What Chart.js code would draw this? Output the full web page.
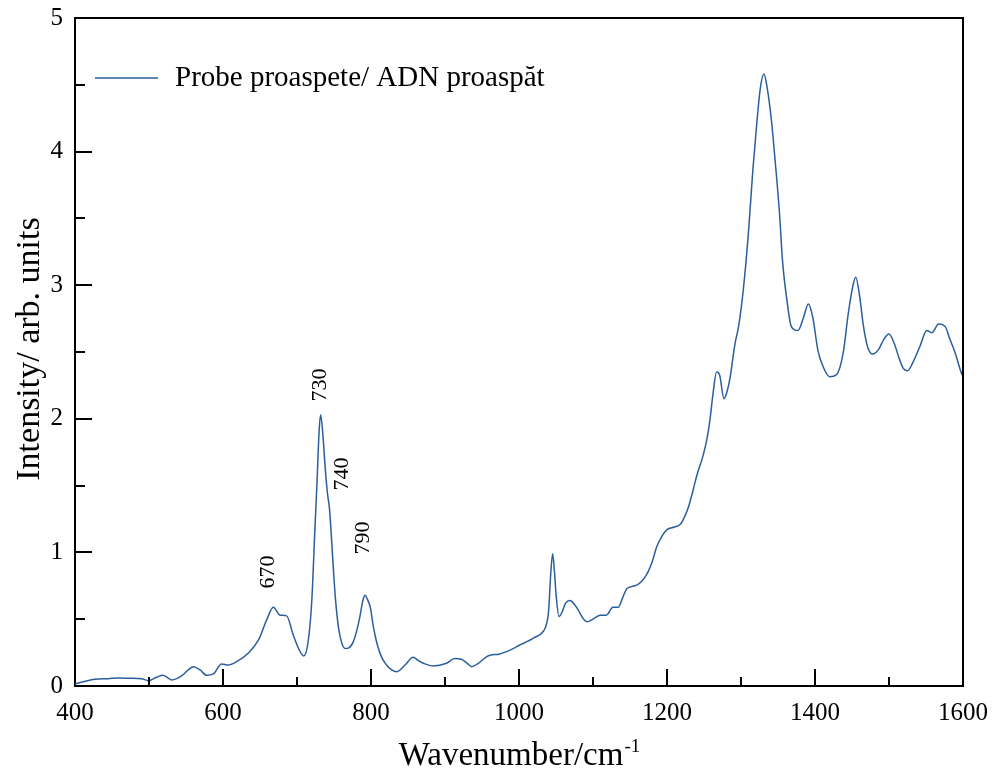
<!DOCTYPE html>
<html>
<head>
<meta charset="utf-8">
<title>Raman spectrum</title>
<script src="https://cdn.jsdelivr.net/npm/chart.js@4.4.1/dist/chart.umd.min.js"></script>
<style>
  html, body { margin: 0; padding: 0; background: #fff; }
  canvas { display: block; }
</style>
</head>
<body>
<canvas id="spectrumChart" width="998" height="772"></canvas>
<script>
// Raman shift (cm-1) and measured intensity (arb. units)
const wavenumbers = [
  400, 410, 427, 445, 458, 475, 490, 499, 510, 519, 531, 544, 553, 560, 569, 578, 587, 598, 607, 618,
  634, 648, 659, 668, 677, 686, 695, 703, 709, 715, 720, 724, 727, 730, 732, 735, 738, 741, 744, 749,
  752, 756, 760, 765, 770, 776, 781, 785, 789, 792, 795, 799, 803, 808, 814, 821, 828, 835, 846, 857,
  864, 871, 884, 902, 913, 922, 930, 936, 945, 958, 974, 992, 1001, 1010, 1019, 1033, 1037, 1040, 1043, 1045.5,
  1048, 1050, 1054, 1058, 1063, 1069, 1075, 1080, 1086, 1092, 1100, 1110, 1118, 1127, 1134, 1140, 1146, 1159, 1172, 1180,
  1186, 1193, 1200, 1210, 1218, 1224, 1229, 1235, 1240, 1249, 1254, 1258, 1262, 1267, 1271, 1277, 1281, 1285, 1292, 1297,
  1303, 1310, 1316, 1321, 1326, 1331, 1335, 1341, 1346, 1352, 1356, 1362, 1368, 1377, 1384, 1391, 1397, 1404, 1411, 1420,
  1429, 1438, 1445, 1451, 1455, 1461, 1465, 1471, 1478, 1486, 1493, 1500, 1507, 1513, 1519, 1525, 1533, 1542, 1551, 1558,
  1567, 1576, 1582, 1589, 1598, 1600,
];
const intensities = [
  0.015, 0.03, 0.05, 0.055, 0.06, 0.058, 0.055, 0.04, 0.065, 0.08, 0.045, 0.075, 0.12, 0.145, 0.12, 0.08, 0.09, 0.165, 0.157, 0.18,
  0.245, 0.345, 0.495, 0.59, 0.53, 0.525, 0.38, 0.27, 0.225, 0.33, 0.64, 1.15, 1.52, 1.92, 2.03, 1.88, 1.64, 1.45, 1.32, 0.89,
  0.65, 0.44, 0.33, 0.28, 0.285, 0.33, 0.42, 0.52, 0.64, 0.68, 0.65, 0.59, 0.45, 0.32, 0.22, 0.157, 0.12, 0.107, 0.157, 0.215,
  0.19, 0.17, 0.15, 0.17, 0.205, 0.2, 0.17, 0.145, 0.17, 0.225, 0.24, 0.28, 0.307, 0.33, 0.357, 0.41, 0.46, 0.56, 0.85, 0.99,
  0.85, 0.69, 0.52, 0.55, 0.62, 0.64, 0.61, 0.57, 0.51, 0.48, 0.5, 0.53, 0.53, 0.59, 0.59, 0.66, 0.73, 0.755, 0.83, 0.93,
  1.04, 1.12, 1.17, 1.19, 1.21, 1.27, 1.34, 1.46, 1.57, 1.73, 1.85, 1.99, 2.18, 2.35, 2.33, 2.15, 2.2, 2.3, 2.565, 2.7,
  2.96, 3.39, 3.86, 4.19, 4.47, 4.58, 4.49, 4.24, 3.94, 3.54, 3.19, 2.89, 2.69, 2.66, 2.75, 2.86, 2.76, 2.51, 2.39, 2.315,
  2.33, 2.49, 2.79, 2.99, 3.06, 2.89, 2.71, 2.54, 2.485, 2.52, 2.595, 2.635, 2.565, 2.465, 2.38, 2.36, 2.43, 2.545, 2.66, 2.645,
  2.71, 2.69, 2.6, 2.5, 2.34, 2.32,
];

const seriesLabel = "Probe proaspete/ ADN proaspăt";
const peakLabels = ["670", "730", "740", "790"];
const xTitle = "Wavenumber/cm";
const xTitleSup = "-1";
const yTitle = "Intensity/ arb. units";

const SERIF = "'Liberation Serif', 'Times New Roman', serif";
const LINE_COLOR = "#2b5e9c";

// peak label anchors: wavenumber + vertical pixel centre
const peakLabelPlacement = [
  { wn: 661, y: 572 },
  { wn: 731, y: 385 },
  { wn: 761, y: 474 },
  { wn: 789, y: 538 },
];

const frameAndDecor = {
  id: "frameAndDecor",
  afterDraw(chart) {
    const { ctx, chartArea: area, scales } = chart;
    const xs = scales.x;
    const ys = scales.y;

    ctx.save();
    ctx.strokeStyle = "#000";
    ctx.lineWidth = 2;

    // closing top/right edges of the box
    ctx.beginPath();
    ctx.moveTo(area.left, area.top);
    ctx.lineTo(area.right, area.top);
    ctx.lineTo(area.right, area.bottom);
    ctx.stroke();

    // inward tick marks
    ctx.beginPath();
    for (let v = 500; v < 1600; v += 100) {
      const px = Math.round(xs.getPixelForValue(v));
      const len = v % 200 === 0 ? 17 : 9;
      ctx.moveTo(px, area.bottom);
      ctx.lineTo(px, area.bottom - len);
    }
    for (let v = 0.5; v < 5; v += 0.5) {
      const py = Math.round(ys.getPixelForValue(v));
      const len = Number.isInteger(v) ? 17 : 10;
      ctx.moveTo(area.left, py);
      ctx.lineTo(area.left + len, py);
    }
    ctx.stroke();

    // legend
    ctx.strokeStyle = LINE_COLOR;
    ctx.lineWidth = 1.5;
    ctx.beginPath();
    ctx.moveTo(95, 78);
    ctx.lineTo(158, 78);
    ctx.stroke();
    ctx.fillStyle = "#000";
    ctx.font = `29px ${SERIF}`;
    ctx.textAlign = "left";
    ctx.textBaseline = "middle";
    ctx.fillText(seriesLabel, 175, 78);

    // rotated peak labels
    ctx.font = `22px ${SERIF}`;
    ctx.textAlign = "center";
    peakLabels.forEach((text, i) => {
      const p = peakLabelPlacement[i];
      ctx.save();
      ctx.translate(xs.getPixelForValue(p.wn), p.y);
      ctx.rotate(-Math.PI / 2);
      ctx.fillText(text, 0, 0);
      ctx.restore();
    });

    // x axis title with superscript
    ctx.font = `33px ${SERIF}`;
    ctx.textAlign = "left";
    ctx.textBaseline = "alphabetic";
    const mainW = ctx.measureText(xTitle).width;
    ctx.font = `19px ${SERIF}`;
    const supW = ctx.measureText(xTitleSup).width;
    const startX = (area.left + area.right) / 2 - (mainW + supW) / 2;
    ctx.font = `33px ${SERIF}`;
    ctx.fillText(xTitle, startX, 765);
    ctx.font = `19px ${SERIF}`;
    ctx.fillText(xTitleSup, startX + mainW + 1, 752);

    // y axis title
    ctx.font = `34px ${SERIF}`;
    ctx.textAlign = "center";
    ctx.textBaseline = "middle";
    ctx.save();
    ctx.translate(30, 349);
    ctx.rotate(-Math.PI / 2);
    ctx.fillText(yTitle, 0, 0);
    ctx.restore();

    ctx.restore();
  },
};

const buildPoints = () => wavenumbers.map((wn, i) => ({ x: wn, y: intensities[i] }));

new Chart(document.getElementById("spectrumChart"), {
  type: "line",
  data: {
    datasets: [
      {
        label: seriesLabel,
        data: buildPoints(),
        borderColor: LINE_COLOR,
        borderWidth: 1.5,
        pointRadius: 0,
        fill: false,
        cubicInterpolationMode: "monotone",
      },
    ],
  },
  options: {
    responsive: false,
    animation: false,
    layout: { padding: { top: 18, right: 35, left: 0, bottom: 0 } },
    plugins: {
      legend: { display: false },
      tooltip: { enabled: false },
    },
    scales: {
      x: {
        type: "linear",
        min: 400,
        max: 1600,
        ticks: {
          stepSize: 200,
          color: "#000",
          font: { family: SERIF, size: 25 },
          padding: 12,
          maxRotation: 0,
          callback: (value) => String(value),
        },
        grid: { display: false, drawTicks: false, tickLength: 0 },
        border: { display: true, color: "#000", width: 2 },
        afterFit: (scale) => {
          scale.height = 86;
          scale.paddingLeft = 0;
          scale.paddingRight = 0;
        },
      },
      y: {
        min: 0,
        max: 5,
        ticks: {
          stepSize: 1,
          color: "#000",
          font: { family: SERIF, size: 25 },
          padding: 12,
          callback: (value) => String(value),
        },
        grid: { display: false, drawTicks: false, tickLength: 0 },
        border: { display: true, color: "#000", width: 2 },
        afterFit: (scale) => {
          scale.width = 75;
          scale.paddingTop = 0;
          scale.paddingBottom = 0;
        },
      },
    },
  },
  plugins: [frameAndDecor],
});
</script>
</body>
</html>
